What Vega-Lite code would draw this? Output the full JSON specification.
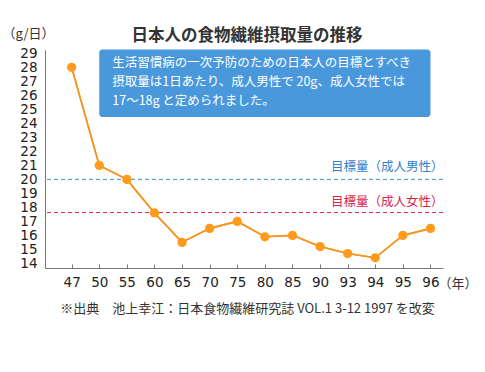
{
  "$schema": "https://vega.github.io/schema/vega-lite/v6.json",
  "autosize": {"type": "none"},
  "width": 398,
  "height": 218,
  "padding": {"left": 45, "top": 50, "right": 42, "bottom": 104},
  "background": "white",
  "config": {
    "font": "Noto Sans CJK JP",
    "view": {"stroke": null},
    "axis": {"labelOverlap": false},
    "axisY": {"labelOverlap": false, "labelBound": false, "tickCount": 20}
  },
  "title": {
    "text": "日本人の食物繊維摂取量の推移",
    "anchor": "middle",
    "dx": 3,
    "offset": -17,
    "fontSize": 16.5,
    "fontWeight": "bold",
    "color": "#333333",
    "font": "Noto Sans CJK JP"
  },
  "datasets": {
    "series": [
      {"year": "47", "value": 28.0},
      {"year": "50", "value": 21.0},
      {"year": "55", "value": 20.0},
      {"year": "60", "value": 17.6},
      {"year": "65", "value": 15.5},
      {"year": "70", "value": 16.5},
      {"year": "75", "value": 17.0},
      {"year": "80", "value": 15.9},
      {"year": "85", "value": 16.0},
      {"year": "90", "value": 15.2},
      {"year": "93", "value": 14.7},
      {"year": "94", "value": 14.4},
      {"year": "95", "value": 16.0},
      {"year": "96", "value": 16.5}
    ]
  },
  "layer": [
    {
      "data": {"name": "series"},
      "mark": {"type": "line", "color": "#F7931E", "strokeWidth": 1.6},
      "encoding": {
        "x": {
          "field": "year",
          "type": "ordinal",
          "scale": {"type": "point", "padding": 0.71, "align": 0.68},
          "axis": {
            "title": "※出典　池上幸江：日本食物繊維研究誌 VOL.1 3-12 1997 を改変",
            "titleFontSize": 13,
            "titleFontWeight": "normal",
            "titleColor": "#333333",
            "titleX": 202,
            "titleY": 40,
            "titleAlign": "center",
            "titleBaseline": "middle",
            "labelAngle": 0,
            "labelFont": "DejaVu Sans",
            "labelFontSize": 13.5,
            "labelColor": "#222222",
            "labelPadding": 11,
            "tickSize": -4,
            "tickColor": "#777777",
            "domainColor": "#777777",
            "grid": false
          }
        },
        "y": {
          "field": "value",
          "type": "quantitative",
          "scale": {"domain": [13.67, 29.24], "nice": false, "zero": false},
          "axis": {
            "title": "（g/日）",
            "titleAngle": 0,
            "titleAlign": "left",
            "titleBaseline": "middle",
            "titleX": -43,
            "titleY": -17,
            "titleFontSize": 13,
            "titleFontWeight": "normal",
            "titleColor": "#333333",
            "values": [14, 15, 16, 17, 18, 19, 20, 21, 22, 23, 24, 25, 26, 27, 28, 29],
            "tickCount": 20,
            "labelFont": "DejaVu Sans",
            "labelFontSize": 13.5,
            "labelColor": "#222222",
            "labelPadding": 8,
            "ticks": false,
            "grid": false,
            "domainColor": "#777777",
            "labelOverlap": false
          }
        }
      }
    },
    {
      "data": {"values": [{}]},
      "mark": {"type": "rect", "color": "#4A98DC", "cornerRadius": 3},
      "encoding": {
        "x": {"datum": "50", "type": "ordinal"},
        "x2": {"datum": "96"},
        "y": {"datum": 29.27, "type": "quantitative"},
        "y2": {"datum": 24.45}
      }
    },
    {
      "data": {"values": [{}]},
      "mark": {
        "type": "text",
        "text": ["生活習慣病の一次予防のための日本人の目標とすべき", "摂取量は1日あたり、成人男性で 20g、成人女性では", "17〜18g と定められました。"],
        "align": "left",
        "baseline": "middle",
        "lineHeight": 19,
        "fontSize": 12.5,
        "color": "white",
        "dx": 13
      },
      "encoding": {
        "x": {"datum": "50", "type": "ordinal"},
        "y": {"datum": 28.31, "type": "quantitative"}
      }
    },
    {
      "data": {"values": [{}]},
      "mark": {"type": "rule", "color": "#3A8CD8", "strokeWidth": 1, "strokeDash": [4, 3]},
      "encoding": {"y": {"datum": 20, "type": "quantitative"}}
    },
    {
      "data": {"values": [{}]},
      "mark": {"type": "rule", "color": "#E0294E", "strokeWidth": 1, "strokeDash": [4, 3]},
      "encoding": {"y": {"datum": 17.63, "type": "quantitative"}}
    },
    {
      "data": {"values": [{}]},
      "mark": {"type": "text", "text": "目標量（成人男性）", "align": "right", "baseline": "middle", "fontSize": 12.5, "color": "#2F80CC", "dx": 13, "dy": -12.5},
      "encoding": {
        "x": {"datum": "96", "type": "ordinal"},
        "y": {"datum": 20, "type": "quantitative"}
      }
    },
    {
      "data": {"values": [{}]},
      "mark": {"type": "text", "text": "目標量（成人女性）", "align": "right", "baseline": "middle", "fontSize": 12.5, "color": "#D8244A", "dx": 13, "dy": -11},
      "encoding": {
        "x": {"datum": "96", "type": "ordinal"},
        "y": {"datum": 17.63, "type": "quantitative"}
      }
    },
    {
      "data": {"values": [{}]},
      "mark": {"type": "text", "text": "（年）", "align": "left", "baseline": "middle", "fontSize": 13, "color": "#333333", "dx": 8, "dy": 15.5, "clip": false},
      "encoding": {
        "x": {"datum": "96", "type": "ordinal"},
        "y": {"datum": 13.67, "type": "quantitative"}
      }
    },
    {
      "data": {"name": "series"},
      "mark": {"type": "line", "color": "#F7931E", "strokeWidth": 1.6},
      "encoding": {
        "x": {"field": "year", "type": "ordinal"},
        "y": {"field": "value", "type": "quantitative"}
      }
    },
    {
      "data": {"name": "series"},
      "mark": {"type": "circle", "color": "#FF9A1A", "opacity": 1, "size": 85},
      "encoding": {
        "x": {"field": "year", "type": "ordinal"},
        "y": {"field": "value", "type": "quantitative"}
      }
    }
  ]
}
